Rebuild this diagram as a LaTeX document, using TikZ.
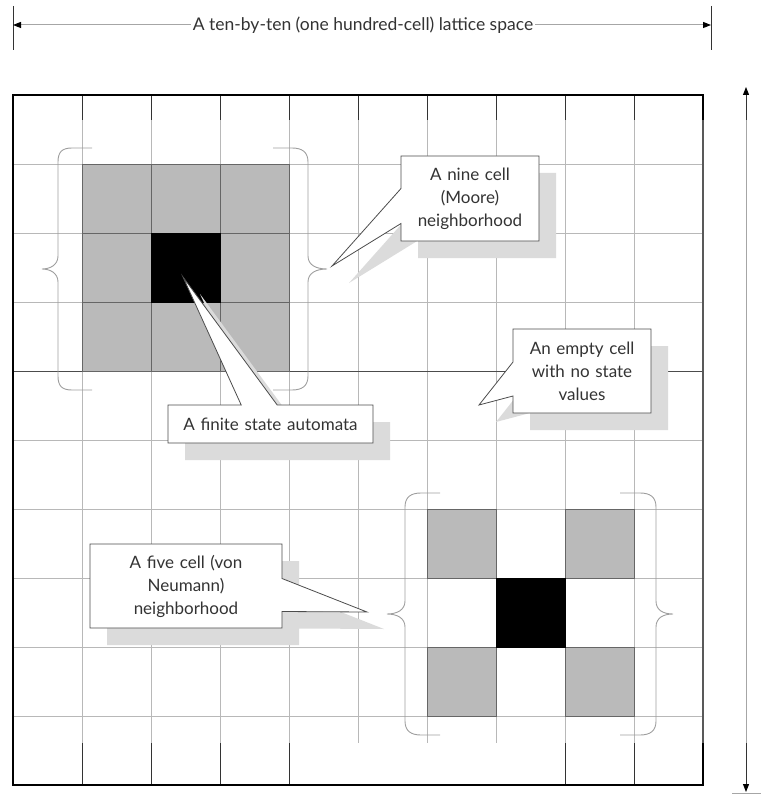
\documentclass[tikz,border=0pt]{standalone}
\usepackage{fontspec}
\setmainfont{Lato}
\usetikzlibrary{arrows.meta,shapes.callouts,shadows}

\tikzset{
  gridline/.style={black!28, line width=0.9pt},
  tickline/.style={black!80, line width=0.9pt},
  nbcell/.style={fill=black!27, draw=black!60, line width=0.9pt},
  stcell/.style={fill=black, draw=black, line width=0.9pt},
  brace/.style={black!38, line width=0.9pt},
  dimline/.style={black!35, line width=1pt,
    {Triangle[length=8pt,width=6pt,color=black]}-{Triangle[length=8pt,width=6pt,color=black]}},
  callbox/.style={rectangle callout, draw=black!70, fill=white, line width=0.8pt,
    inner sep=0pt, align=center, text=black!80, font=\fontsize{17}{23}\selectfont,
    drop shadow={shadow xshift=17pt, shadow yshift=-17pt, fill=black!14, opacity=1}},
}

\begin{document}
\begin{tikzpicture}[x=1pt, y=-1pt]
    \useasboundingbox (0,0) rectangle (761,794);
    	% Lattice lines:
    	\foreach \y in {164,233,302,440,509,578,647,716}
    	  \draw[gridline] (13,\y) -- (703,\y);
    	\foreach \x in {82,151,...,634}
    	  \draw[gridline] (\x,120) -- (\x,743);
    	\draw[black!70, line width=0.9pt] (13,371) -- (703,371);
    	\foreach \x in {82,151,...,634}
    	  \draw[tickline] (\x,95) -- (\x,120);
    	\foreach \x in {82,151,220,289,565,634}
    	  \draw[tickline] (\x,743) -- (\x,785);
    	% Moore neighborhood:
    	\foreach \i in {0,1,2}
    	  \foreach \j in {0,1,2}
    	    \draw[nbcell] (82+69*\i,164+69*\j) rectangle +(69,69);
    	\draw[stcell] (151,233) rectangle (220,302);
    	% von Neumann neighborhood:
    	\foreach \x/\y in {427/509, 565/509, 427/647, 565/647}
    	  \draw[nbcell] (\x,\y) rectangle +(69,69);
    	\draw[stcell] (496,578) rectangle (565,647);
    	% Frame:
    	\draw[black, line width=1.6pt] (703,120) -- (703,95) -- (13,95) -- (13,785) -- (703,785) -- (703,743);
    	\draw[black!65, line width=1.4pt] (703,120) -- (703,743);
    	% Braces:
    	\draw[brace] (92,148) -- (72,148) .. controls (62,148) and (58,152) .. (58,162) -- (58,256)
    	  .. controls (58,265) and (50,269) .. (42,269) .. controls (50,269) and (58,273) .. (58,282)
    	  -- (58,376) .. controls (58,386) and (62,390) .. (72,390) -- (92,390);
    	\draw[brace] (273,148) -- (292,148) .. controls (302,148) and (308,152) .. (308,162) -- (308,256)
    	  .. controls (308,265) and (316,269) .. (327,269) .. controls (316,269) and (308,273) .. (308,282)
    	  -- (308,376) .. controls (308,386) and (302,390) .. (292,390) -- (273,390);
    	\draw[brace] (440,493) -- (421,493) .. controls (411,493) and (405,497) .. (405,507) -- (405,601)
    	  .. controls (405,610) and (397,614) .. (387,614) .. controls (397,614) and (405,618) .. (405,627)
    	  -- (405,721) .. controls (405,731) and (411,735) .. (421,735) -- (440,735);
    	\draw[brace] (620,493) -- (640,493) .. controls (650,493) and (656,497) .. (656,507) -- (656,601)
    	  .. controls (656,610) and (663,614) .. (673,614) .. controls (663,614) and (656,618) .. (656,627)
    	  -- (656,721) .. controls (656,731) and (650,735) .. (640,735) -- (620,735);
    	% Dimension lines:
    	\coordinate (hl) at (13,25);
    	\coordinate (hr) at (711,25);
    	\coordinate (vt) at (746,87);
    	\coordinate (vb) at (746,792);
    	\draw[black!80] (13,6) -- (13,50);
    	\draw[black!80] (711,6) -- (711,50);
    	\draw[dimline] (hl) -- (hr);
    	\node[fill=white, inner sep=2pt, text=black!80, font=\fontsize{17.5}{23}\selectfont] (title) at (363,25) {A ten-by-ten (one hundred-cell) lattice space};
    	\draw[dimline] (vb) -- (vt);
    	\draw[black!80, line width=1pt] (746,95) -- (746,120);
    	\draw[black!80, line width=1pt] (746,743) -- (746,784);
    	\draw[black!35] (732,793) -- (761,793);
    	% Callouts:
    	\coordinate (mooretip) at (332,266);
    	\coordinate (emptytip) at (479,405);
    	\coordinate (finitetip) at (183,277);
    	\coordinate (fivetip) at (367,612);
    	\node[callbox, text width=138pt, minimum height=85pt, callout absolute pointer={(mooretip)}, callout pointer width=35pt] (moore) at (470,198.5) {A nine cell\\(Moore)\\neighborhood};
    	\node[callbox, text width=138pt, minimum height=84pt, callout absolute pointer={(emptytip)}, callout pointer width=34pt] (empty) at (582,371) {An empty cell\\with no state\\values};
    	\node[callbox, text width=205pt, minimum height=38pt, callout absolute pointer={(finitetip)}, callout pointer width=36pt] (finite) at (270.5,424) {A finite state automata};
    	\node[callbox, text width=192pt, minimum height=84pt, callout absolute pointer={(fivetip)}, callout pointer width=33pt] (vonneumann) at (186,586) {A five cell (von\\Neumann)\\neighborhood};
\end{tikzpicture}
\end{document}
